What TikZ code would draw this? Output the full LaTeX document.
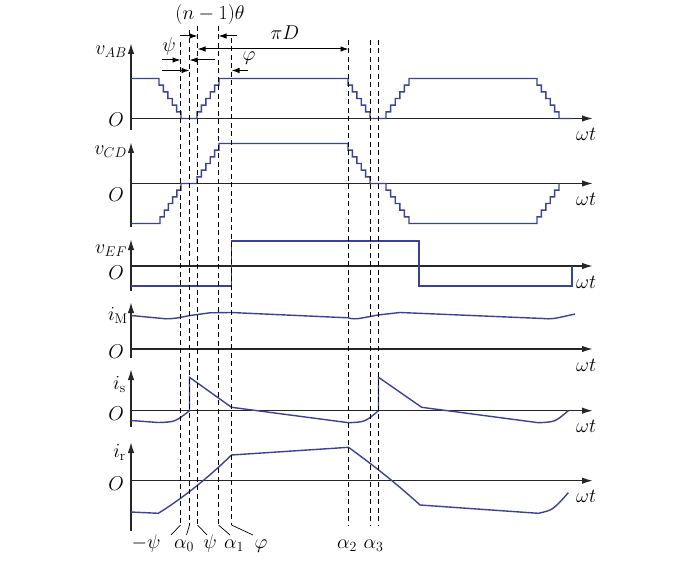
\RequirePackage{fix-cm}
\documentclass[tikz,border=0pt]{standalone}
\usetikzlibrary{arrows.meta}
\definecolor{wave}{RGB}{58,66,150}
\newcommand{\Stairs}[2]{-- ++(0,#2) \foreach \k in {1,...,5} {-- ++(#1,0) -- ++(0,#2)}}
\begin{document}
\begin{tikzpicture}[x=1pt,y=-1pt]
	\tikzstyle{Axis} = [line width=1.5pt, black!85, -{Latex[length=11pt,width=6.5pt]}]
	\tikzstyle{Wave} = [line width=1.4pt, wave, line join=miter]
	\tikzstyle{Guide} = [line width=1.3pt, dash pattern=on 5pt off 3.5pt]
	\tikzstyle{Span} = [line width=1pt, -{Latex[length=8pt,width=5.5pt]}]
	\tikzstyle{Both} = [line width=1pt, {Latex[length=8pt,width=5.5pt]}-{Latex[length=8pt,width=5.5pt]}]
	\tikzstyle{Lead} = [line width=0.7pt]
	\tikzstyle{Lbl} = [inner sep=0pt, font=\fontsize{20}{23}\selectfont]
	\useasboundingbox (0,0) rectangle (700,561);
	\coordinate (AB) at (131,118.5);
	\coordinate (ABt) at (131,43);
	\coordinate (ABb) at (131,130);
	\coordinate (ABe) at (593,118.5);
	\coordinate (CD) at (131,183.5);
	\coordinate (CDt) at (131,142);
	\coordinate (CDb) at (131,227);
	\coordinate (CDe) at (593,183.5);
	\coordinate (EF) at (131,266);
	\coordinate (EFt) at (131,239);
	\coordinate (EFb) at (131,291);
	\coordinate (EFe) at (593,266);
	\coordinate (M) at (131,349);
	\coordinate (Mt) at (131,302);
	\coordinate (Mb) at (131,358);
	\coordinate (Me) at (593,349);
	\coordinate (S) at (131,410.7);
	\coordinate (St) at (131,369);
	\coordinate (Sb) at (131,427);
	\coordinate (Se) at (593,410.7);
	\coordinate (R) at (131,480.7);
	\coordinate (Rt) at (131,442);
	\coordinate (Rb) at (131,531);
	\coordinate (Re) at (593,480.7);
	\draw [Axis] (ABb) to (ABt);
	\draw [Axis] (AB) to (ABe);
	\draw [Axis] (CDb) to (CDt);
	\draw [Axis] (CD) to (CDe);
	\draw [Axis] (EFb) to (EFt);
	\draw [Axis] (EF) to (EFe);
	\draw [Axis] (Mb) to (Mt);
	\draw [Axis] (M) to (Me);
	\draw [Axis] (Sb) to (St);
	\draw [Axis] (S) to (Se);
	\draw [Axis] (Rb) to (Rt);
	\draw [Axis] (R) to (Re);
	\node (vAB) at (127,55) [Lbl, anchor=base east] {$v_{AB}$};
	\node (vCD) at (127,155) [Lbl, anchor=base east] {$v_{CD}$};
	\node (vEF) at (127,253) [Lbl, anchor=base east] {$v_{EF}$};
	\node (iM) at (128,320) [Lbl, anchor=base east] {$i_{\mathrm{M}}$};
	\node (is) at (126,389) [Lbl, anchor=base east] {$i_{\mathrm{s}}$};
	\node (ir) at (126,457) [Lbl, anchor=base east] {$i_{\mathrm{r}}$};
	\node (oAB) at (124,126.5) [Lbl, anchor=base east] {$O$};
	\node (oCD) at (124,201) [Lbl, anchor=base east] {$O$};
	\node (oEF) at (124,279) [Lbl, anchor=base east] {$O$};
	\node (oM) at (124,358) [Lbl, anchor=base east] {$O$};
	\node (oS) at (124,420) [Lbl, anchor=base east] {$O$};
	\node (oR) at (124,490) [Lbl, anchor=base east] {$O$};
	\node (tAB) at (576,140.5) [Lbl, anchor=base west] {$\omega t$};
	\node (tCD) at (576,205.5) [Lbl, anchor=base west] {$\omega t$};
	\node (tEF) at (576,288) [Lbl, anchor=base west] {$\omega t$};
	\node (tM) at (576,371) [Lbl, anchor=base west] {$\omega t$};
	\node (tS) at (576,432.7) [Lbl, anchor=base west] {$\omega t$};
	\node (tR) at (576,502.7) [Lbl, anchor=base west] {$\omega t$};
	\draw [Wave] (131,78.5) -- (159,78.5) \Stairs{4.4}{6.67} -- (197,118.5) \Stairs{4.4}{-6.67} -- (348,78.5) \Stairs{4.4}{6.67} -- (386,118.5) \Stairs{4.6}{-6.67} -- (537,78.5) \Stairs{4.4}{6.67} -- (572,118.5);
	\draw [Wave] (131,223.5) -- (160,223.5) \Stairs{4.2}{-6.67} -- (197,183.5) \Stairs{4.4}{-6.67} -- (348,143.5) \Stairs{4.4}{6.67} -- (386,183.5) \Stairs{4.6}{6.67} -- (537,223.5) \Stairs{4.4}{-6.67};
	\draw [Wave] (131,286) -- (231.5,286) -- (231.5,241) -- (419,241) -- (419,286) -- (572,286) -- (572,266);
	\draw [Wave] (131,315.5) -- (166,318.8) .. controls (175,318.5) .. (190,315.5) -- (210,312.8) -- (231,312.5) -- (348,317.8) .. controls (352,319) and (356,319.2) .. (362,318) -- (378,315) -- (400,312.5) -- (543,318.5) .. controls (552,319.2) .. (575,314);
	\draw [Wave] (131,420.5) -- (158,422.5) .. controls (175,422) .. (189.5,410.7) -- (189.5,377.3) -- (231.5,407.3) -- (348.5,422.7) .. controls (365,422) .. (378.5,410.7) -- (378.5,377.3) -- (421.7,407.3) -- (538.3,422.7) .. controls (555,422) .. (568.3,410.7);
	\draw [Wave] (131,512) -- (158.3,513.3) .. controls (182,498.6) and (207,478.8) .. (231.5,455) -- (348.5,447.3) .. controls (372,464.4) and (396,483) .. (420,505) -- (538.3,513.3) .. controls (553,510) .. (568.3,492.7);
	\coordinate (mpsiT) at (180.5,42);
	\coordinate (mpsiB) at (180.5,525);
	\coordinate (aoT) at (189.5,30);
	\coordinate (aoB) at (189.5,525);
	\coordinate (psiT) at (197.5,26);
	\coordinate (psiB) at (197.5,525);
	\coordinate (aiT) at (218.5,26);
	\coordinate (aiB) at (218.5,525);
	\coordinate (phiT) at (231.5,38);
	\coordinate (phiB) at (231.5,525);
	\coordinate (aiiT) at (348.5,40);
	\coordinate (aiiB) at (348.5,525);
	\coordinate (aiiiT) at (370.5,40);
	\coordinate (aiiiB) at (370.5,525);
	\coordinate (aivT) at (378.5,40);
	\coordinate (aivB) at (378.5,525);
	\draw [Guide] (mpsiT) to (mpsiB);
	\draw [Guide] (aoT) to (aoB);
	\draw [Guide] (psiT) to (psiB);
	\draw [Guide] (aiT) to (aiB);
	\draw [Guide] (phiT) to (phiB);
	\draw [Guide] (aiiT) to (aiiB);
	\draw [Guide] (aiiiT) to (aiiiB);
	\draw [Guide] (aivT) to (aivB);
	\coordinate (n1) at (180,36);
	\coordinate (n2) at (237,36);
	\coordinate (pd) at (300,49);
	\coordinate (s1) at (161.5,60);
	\coordinate (s2) at (215,60);
	\coordinate (f1) at (161.5,70.5);
	\coordinate (f2) at (248,70.5);
	\draw [Span] (n1) to (psiT |- n1);
	\draw [Span] (n2) to (aiT |- n2);
	\draw [Both] (psiT |- pd) to (aiiT |- pd);
	\draw [Span] (s1) to (mpsiT |- s1);
	\draw [Span] (s2) to (aoT |- s2);
	\draw [Span] (f1) to (aoT |- f1);
	\draw [Span] (f2) to (phiT |- f2);
	\node (nth) at (210,15) [Lbl] {$(n-1)\theta$};
	\node (piD) at (285,33) [Lbl] {$\pi D$};
	\node (tpsi) at (169,47) [Lbl] {$\psi$};
	\node (tphi) at (249,58) [Lbl] {$\varphi$};
	\coordinate (mpsiL) at (171,535);
	\coordinate (aoL) at (186.5,535);
	\coordinate (psiL) at (207,535);
	\coordinate (aiL) at (230,535);
	\coordinate (phiL) at (253,535);
	\draw [Lead] (mpsiB) to (mpsiL);
	\draw [Lead] (aoB) to (aoL);
	\draw [Lead] (psiB) to (psiL);
	\draw [Lead] (aiB) to (aiL);
	\draw [Lead] (phiB) to (phiL);
	\node (bmpsi) at (146,548) [Lbl, anchor=base] {$-\psi$};
	\node (bao) at (184,548) [Lbl, anchor=base] {$\alpha_0$};
	\node (bpsi) at (210,548) [Lbl, anchor=base] {$\psi$};
	\node (bai) at (234,548) [Lbl, anchor=base] {$\alpha_1$};
	\node (bphi) at (261,548) [Lbl, anchor=base] {$\varphi$};
	\node (baii) at (347,548) [Lbl, anchor=base] {$\alpha_2$};
	\node (baiii) at (373.5,548) [Lbl, anchor=base] {$\alpha_3$};
\end{tikzpicture}
\end{document}
